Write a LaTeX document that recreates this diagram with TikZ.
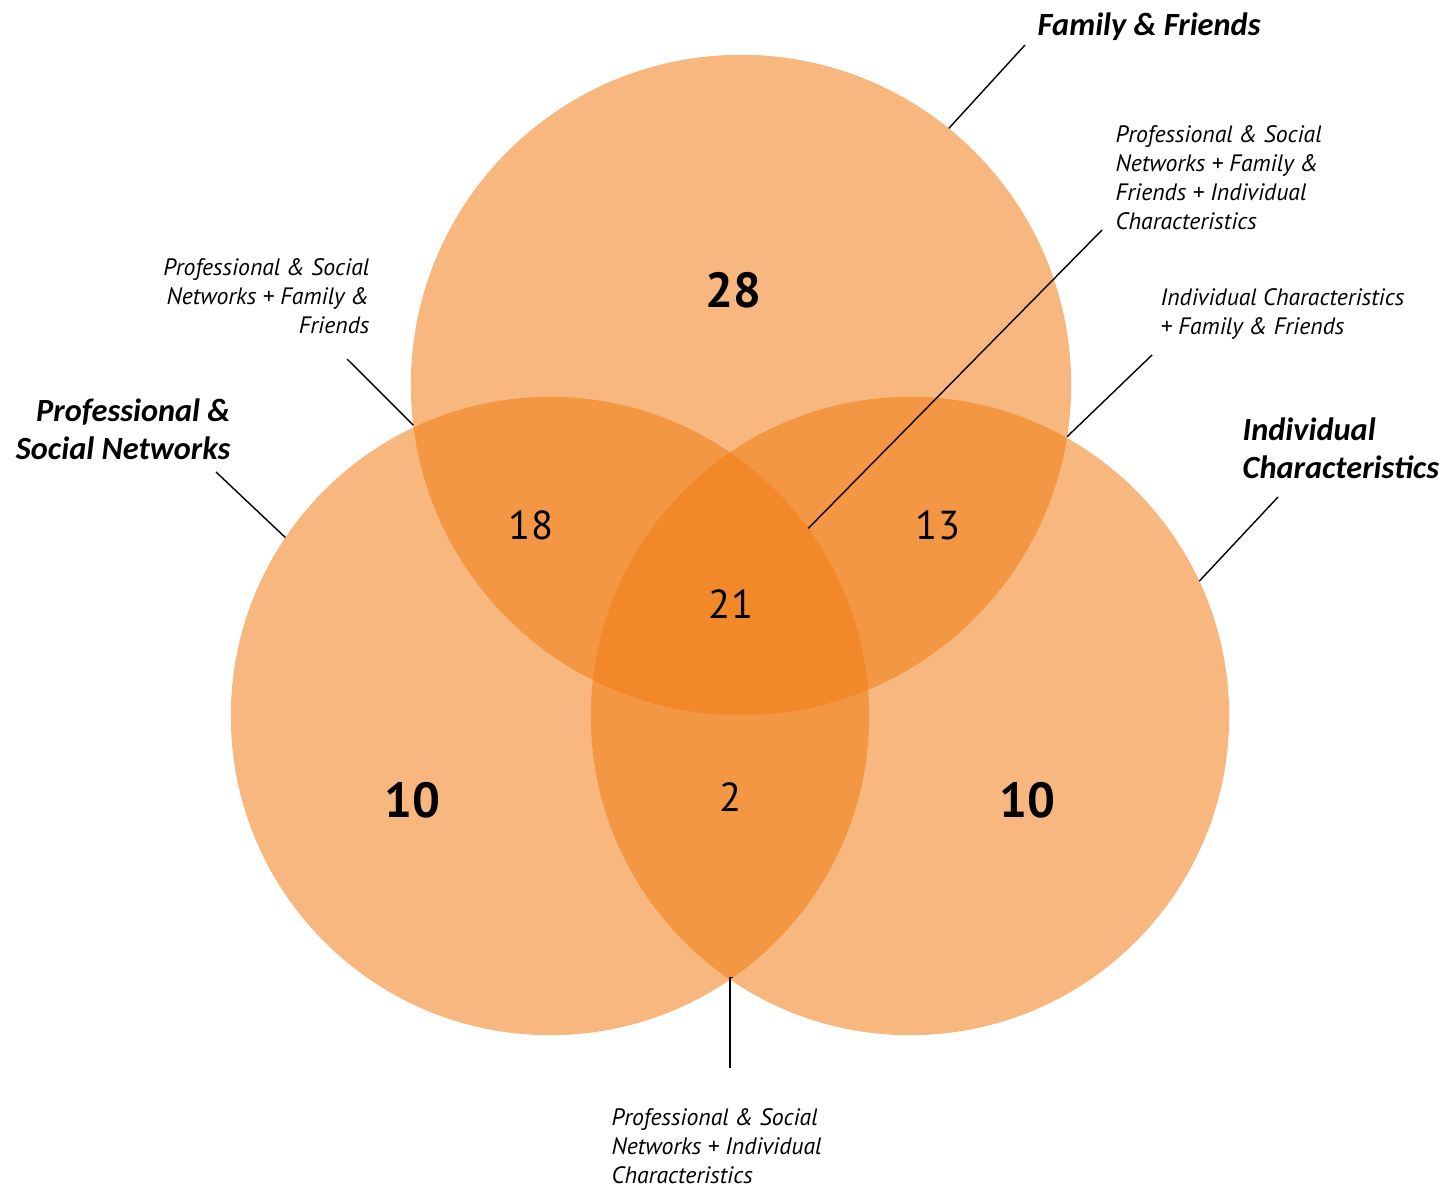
\documentclass[tikz,border=0pt]{standalone}
\usepackage{fontspec}
\setmainfont{PT Sans}
\newfontfamily\headfont{Carlito}
\definecolor{vennorange}{RGB}{241,124,20}

\begin{document}
\begin{tikzpicture}[x=0.01cm,y=-0.01cm,
  venn/.style={circle,fill=vennorange,fill opacity=0.55,inner sep=0pt,outer sep=0pt},
  count/.style={font=\fontsize{11.5}{13}\selectfont},
  bigcount/.style={font=\fontsize{14}{16}\selectfont\bfseries},
  setname/.style={font=\fontsize{9.2}{10.8}\selectfont\headfont\bfseries\itshape,inner sep=0pt},
  note/.style={font=\fontsize{6.75}{8.25}\selectfont\itshape,inner sep=0pt},
  leader/.style={draw=black,line width=0.4pt}]
\useasboundingbox (0,0) rectangle (1440,1188);

% the three sets
\node[venn,minimum size=6.6cm] (fam) at (741,385) {};
\node[venn,minimum size=6.38cm] (psn) at (550,716) {};
\node[venn,minimum size=6.38cm] (ind) at (910,716) {};

% counts
\node[bigcount] (n28) at (733,290) {28};
\node[bigcount] (n10a) at (412,800) {10};
\node[bigcount] (n10b) at (1027,800) {10};
\node[count] (n18) at (531,525) {18};
\node[count] (n13) at (938,525) {13};
\node[count] (n21) at (731,604) {21};
\node[count] (n2) at (731,797) {2};

% set names
\node[setname,anchor=west] (famlab) at (1037,27) {Family \& Friends};
\node[setname,anchor=east,align=right] (psnlab) at (231,429) {Professional \&\\Social Networks};
\node[setname,anchor=west,align=left] (indlab) at (1242,448) {Individual\\Characteristics};

% overlap notes
\node[note,anchor=east,align=right] (pfnote) at (370,296) {Professional \& Social\\Networks + Family \&\\Friends};
\node[note,anchor=west,align=left] (allnote) at (1115,178) {Professional \& Social\\Networks + Family \&\\Friends + Individual\\Characteristics};
\node[note,anchor=west,align=left] (ifnote) at (1160,314) {Individual Characteristics\\+ Family \& Friends};
\node[note,anchor=west,align=left] (pinote) at (611,1146) {Professional \& Social\\Networks + Individual\\Characteristics};

% leader lines
\coordinate (famend) at (1025,45);
\coordinate (psnend) at (216,472);
\coordinate (indend) at (1278,497);
\coordinate (pfend) at (347,359);
\coordinate (allend) at (1102,230);
\coordinate (ifend) at (1152,355);
\coordinate (piend) at (730,1068);
\draw[leader] (fam.51.7) -- (famend);
\draw[leader] (psn.146.6) -- (psnend);
\draw[leader] (ind.25.8) -- (indend);
\draw[leader] (fam.187) -- (pfend);
\draw[leader] (psn.36.8) -- (allend);
\draw[leader] (fam.351) -- (ifend);
\draw[leader] (psn.-55.65) -- (piend |- psn.-55.65) -- (piend);
\end{tikzpicture}
\end{document}
